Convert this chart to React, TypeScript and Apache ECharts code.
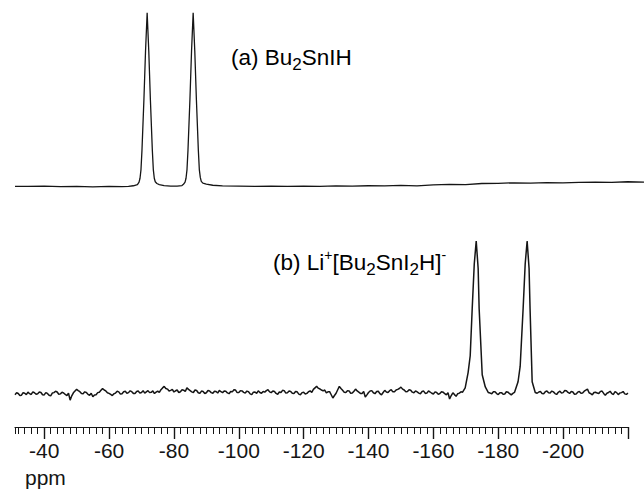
import React, { useEffect, useRef } from "react";
import * as echarts from "echarts";

const FONT = '"Liberation Sans", Arial, Helvetica, sans-serif';
const INK = "#151515";

// Axis range (ppm) and ticks
const AXIS_MIN = -220;
const AXIS_MAX = -31;
const MAJOR_FROM = -40;
const MAJOR_STEP = 20;
const MINOR_STEP = 2;
const TOP_AXIS_MIN = -225;

// (a) Bu2SnIH trace: [ppm, intensity]
const TOP_TRACE: [number, number][] = [
  [-31, 0.4], [-35, 0.3], [-40, 0.5], [-45, 0.2], [-50, 0.4], [-55, 0.1], [-60, 0.3],
  [-64, 0.2], [-66, 0.4], [-67.5, 0.7],
  [-68.76, 1.4], [-69.26, 2.8], [-69.56, 5], [-69.86, 10], [-70.16, 21], [-70.76, 50],
  [-71.26, 78], [-71.76, 100], [-72.26, 78], [-72.76, 50], [-73.36, 21], [-73.66, 10],
  [-73.96, 5], [-74.26, 3], [-74.76, 2], [-75.5, 1.4], [-77, 0.8],
  [-79, 0.5], [-81, 0.5], [-82.5, 0.8],
  [-82.95, 1.5], [-83.45, 2.8], [-83.75, 5], [-84.05, 10], [-84.35, 21], [-84.95, 50],
  [-85.45, 78], [-85.95, 100], [-86.45, 78], [-86.95, 50], [-87.55, 21], [-87.85, 10],
  [-88.15, 5.5], [-88.45, 3.2], [-88.95, 2.2], [-90, 1.6], [-92, 1.0],
  [-95, 0.6], [-100, 0.5], [-105, 0.4], [-110, 0.5], [-115, 0.3], [-120, 0.5],
  [-125, 0.4], [-130, 0.6], [-135, 0.5], [-140, 0.7], [-145, 0.6], [-150, 0.9],
  [-155, 0.6], [-160, 1.2], [-165, 1.5], [-170, 1.3], [-175, 2.0], [-180, 2.1],
  [-185, 2.4], [-190, 2.2], [-195, 2.5], [-200, 2.4], [-205, 2.6], [-210, 2.8],
  [-215, 2.6], [-220, 3.0], [-225, 2.8],
];

// (b) Li+[Bu2SnI2H]- trace. Noise stretches are sampled every 0.5 ppm from their start.
const NOISE_STEP = 0.5;
const BOTTOM_NOISE_LEFT_START = -31;
const BOTTOM_NOISE_LEFT: number[] = [
  -0.5, 0.8, 0.3, -1.0, -0.8, 0.9, 0.5, -0.4, 1.2, 0.2,
  -0.3, 1.4, 0.8, -0.2, 0.2, 1.3, 1.0, -0.5, -0.6, 0.9,
  0.4, -0.8, -1.2, 0.6, 0.9, 1.8, 1.3, -0.2, 0.1, 1.1,
  0.7, -0.3, -1.0, 0.5, -4.0, -1.2, 0.8, 2.0, 3.0, 2.2,
  1.5, 0.3, 0.2, 1.4, 1.0, -0.2, -0.8, 0.5, -1.8, -0.6,
  -0.5, 0.9, 1.2, 2.4, 3.5, 2.6, 2.0, 0.8, 0.4, -0.3,
  -1.0, 0.2, 0.6, 1.8, 1.4, -0.1, 0.2, 1.5, 1.8, 0.5,
  0.9, 2.1, 1.5, 0.4, 0.3, 1.6, 2.0, 0.6, 1.0, 2.2,
  0.6, 1.4, 2.2, 0.9, 1.1, 2.0, 0.3, 1.2, 1.9, 1.0,
  2.8, 4.0, 5.0, 3.6, 3.2, 2.0, 2.4, 3.0, 1.3, 2.1,
  2.6, 1.0, 1.5, 2.8, 2.5, 1.6, 4.0, 3.0, 2.2, 1.4,
  1.0, 2.6, 2.3, 0.8, 0.4, 1.9, 1.6, 0.3, 0.8, 2.3,
  2.0, 0.9, 0.5, 1.8, 1.7, 0.6, 2.4, 1.5, 0.9, 2.0,
  1.8, 0.7, 0.2, 1.6, 1.4, 2.8, 2.6, 0.9, 1.0, 2.2,
  2.0, 1.1, 0.6, 1.9, 1.5, 0.1, -0.4, 1.2, 1.3, 0.4,
  2.1, 1.0, 0.5, 1.7, 1.2, 2.2, 2.8, 1.4, 0.9, 2.0,
  1.6, 0.4, -0.2, 1.3, 1.0, 2.4, 2.2, 0.6, 0.8, 1.9,
  1.7, 0.5, 0.3, 1.6, 1.4, -0.1, -0.5, 0.9, 1.1, 0.0,
  0.4, 1.5, 2.0, 1.1, 3.0, 4.0, 5.0, 3.8, 3.3, 2.6,
  2.0, 2.6, 0.8, 1.4, 1.5, -0.5, -2.6, -1.0, 0.5, 2.8,
  5.0, 3.6, 2.4, 1.2, 1.0, 2.2, 2.0, 0.5, 0.6, 1.8,
  3.2, 2.0, 1.2, 0.4, 0.4, 1.6, -2.0, -0.6, 1.0, 2.0,
  2.2, 0.8, 0.2, 1.6, 1.8, 0.2, -0.6, 1.0, 2.4, 1.3,
  1.0, 2.2, 2.8, 1.4, 1.5, 2.6, 3.0, 3.6, 4.5, 3.2,
  2.6, 1.4, 1.6, 2.8, 2.5, 1.2, 0.8, 2.0, 1.4, 0.6,
  0.2, 1.6, 1.9, 0.4, 0.6, 2.0, 1.3, 0.5, 0.0, 1.4,
  1.0, -0.2, 0.3, 1.5, 1.2, 0.2, -0.5, 0.8, -3.3, -1.0,
  0.8, -0.4, -1.5, 0.2, 0.6, 1.4, 1.2,
];
const BOTTOM_PEAK_1: [number, number][] = [
  [-169.8, 4], [-170.7, 14], [-171.35, 25], [-171.97, 56], [-172.6, 85], [-173.2, 100],
  [-173.8, 82], [-174.1, 56], [-175.05, 12.6], [-176.0, 4.6], [-176.9, 1.0],
];
const BOTTOM_NOISE_MID_START = -177.5;
const BOTTOM_NOISE_MID: number[] = [
  0.6, 0.2, 1.4, 1.5, 0.3, -0.4, 0.8, 0.9, -0.2, 0.0, 1.5, 1.2, 0.2, -0.6, 0.4, 1.0,
];
const BOTTOM_PEAK_2: [number, number][] = [
  [-185.2, 1], [-186.1, 8], [-186.75, 18], [-187.67, 56], [-188.3, 85], [-188.9, 100],
  [-189.5, 82], [-189.8, 56], [-190.45, 8], [-191.4, 1],
];
const BOTTOM_NOISE_RIGHT_START = -192;
const BOTTOM_NOISE_RIGHT: number[] = [
  0.5, 1.3, 1.6, 0.4, 0.2, 1.5, 2.0, 0.8, 0.7, 1.9,
  1.4, 0.3, -0.3, 1.1, 1.8, 0.6, 0.9, 2.3, 2.2, 1.0,
  0.4, 1.6, 1.3, -0.2, 0.0, 1.2, 1.7, 0.5, 0.6, 1.8,
  2.5, 3.2, 0.8, 0.2, -0.5, 1.0, 1.2, 0.6, 0.3, 1.7,
  1.9, 0.4, -0.8, 0.5, 1.0, 1.8, 0.2, -0.3, 1.5, 0.9,
  -0.4, 0.7, 0.9, 1.6, 0.1, -0.2, 0.5,
];

const sampled = (start: number, values: number[]): [number, number][] =>
  values.map((v, i) => [start - i * NOISE_STEP, v]);

export default function App() {
  const ref = useRef<HTMLDivElement>(null);

  useEffect(() => {
    if (!ref.current) return;
    const chart = echarts.init(ref.current, null, { renderer: "svg" });
    const bottom = [
      ...sampled(BOTTOM_NOISE_LEFT_START, BOTTOM_NOISE_LEFT),
      ...BOTTOM_PEAK_1,
      ...sampled(BOTTOM_NOISE_MID_START, BOTTOM_NOISE_MID),
      ...BOTTOM_PEAK_2,
      ...sampled(BOTTOM_NOISE_RIGHT_START, BOTTOM_NOISE_RIGHT),
    ];
    const left = 15;
    const pxPerPpm = 613 / (AXIS_MAX - AXIS_MIN);
    const majorLeft = left + (AXIS_MAX - MAJOR_FROM) * pxPerPpm;
    const axisY = 427;
    const bTop = 241;
    const bHeight = 168.3;
    const off = axisY - (bTop + bHeight);

    const subStyle = { fontSize: 17, fontFamily: FONT, lineHeight: 16, verticalAlign: "bottom", color: INK };
    const normStyle = { fontSize: 22.5, fontFamily: FONT, lineHeight: 30, color: INK };
    const supStyle = { fontSize: 14, fontFamily: FONT, lineHeight: 20, verticalAlign: "top", color: INK };

    chart.setOption({
      animation: false,
      backgroundColor: "#ffffff",
      grid: [
        { left, top: 12.7, width: (AXIS_MAX - TOP_AXIS_MIN) * pxPerPpm, height: 183 },
        { left, top: bTop, width: 613, height: bHeight },
        { left: majorLeft, top: bTop, width: (MAJOR_FROM - AXIS_MIN) * pxPerPpm, height: bHeight },
      ],
      xAxis: [
        {
          type: "value", gridIndex: 0, min: TOP_AXIS_MIN, max: AXIS_MAX, inverse: true, show: false,
        },
        {
          type: "value", gridIndex: 1, min: AXIS_MIN, max: AXIS_MAX, inverse: true,
          interval: MINOR_STEP, offset: off, position: "bottom",
          axisLine: { show: true, onZero: false, lineStyle: { color: INK, width: 1.2 } },
          axisTick: { show: true, length: 7, lineStyle: { color: INK, width: 1 } },
          axisLabel: { show: false },
          splitLine: { show: false },
        },
        {
          type: "value", gridIndex: 2, min: AXIS_MIN, max: MAJOR_FROM, inverse: true,
          interval: MAJOR_STEP, offset: off, position: "bottom",
          axisLine: { show: true, onZero: false, lineStyle: { color: INK, width: 1.2 } },
          axisTick: { show: true, length: 12, lineStyle: { color: INK, width: 1.4 } },
          axisLabel: {
            show: true, margin: 13, color: INK, fontSize: 21, fontFamily: FONT,
            formatter: (v: number) => (v === AXIS_MIN ? "" : String(v)),
          },
          splitLine: { show: false },
        },
      ],
      yAxis: [
        { type: "value", gridIndex: 0, min: -5, max: 100, show: false },
        { type: "value", gridIndex: 1, min: -10, max: 100, show: false },
        { type: "value", gridIndex: 2, min: -10, max: 100, show: false },
      ],
      series: [
        {
          type: "line", xAxisIndex: 0, yAxisIndex: 0, data: TOP_TRACE, showSymbol: false,
          symbol: "none", lineStyle: { color: INK, width: 1.3 }, silent: true,
        },
        {
          type: "line", xAxisIndex: 1, yAxisIndex: 1, data: bottom, showSymbol: false,
          symbol: "none", lineStyle: { color: INK, width: 1.5 }, silent: true,
        },
      ],
      graphic: [
        {
          type: "text", x: 231, y: 57.5,
          style: {
            text: "{n|(a) Bu}{sub|2}{n|SnIH}",
            verticalAlign: "middle", align: "left",
            rich: { n: normStyle, sub: subStyle },
          },
        },
        {
          type: "text", x: 273, y: 262.5,
          style: {
            text: "{n|(b) Li}{sup|+}{n|[Bu}{sub|2}{n|SnI}{sub|2}{n|H]}{sup|-}",
            verticalAlign: "middle", align: "left",
            rich: { n: normStyle, sub: subStyle, sup: supStyle },
          },
        },
        {
          type: "text", x: 25, y: 477,
          style: {
            text: "ppm", fontSize: 21, fontFamily: FONT, fill: INK,
            verticalAlign: "middle", align: "left", lineHeight: 14,
          },
        },
      ],
    });
    return () => chart.dispose();
  }, []);

  return (
    <div
      ref={ref}
      style={{ position: "fixed", left: 0, top: 0, width: 644, height: 491, background: "#fff" }}
    />
  );
}
